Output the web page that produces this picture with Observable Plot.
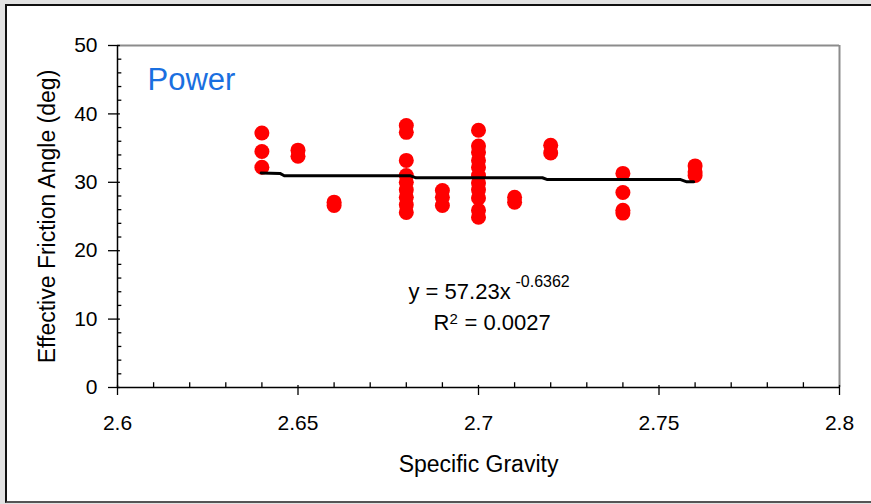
<!DOCTYPE html>
<html><head><meta charset="utf-8">
<script src="https://cdn.jsdelivr.net/npm/d3@7"></script>
<script src="https://cdn.jsdelivr.net/npm/@observablehq/plot@0.6"></script>
<style>
html,body{margin:0;padding:0;background:#e2e2e2;width:871px;height:504px;overflow:hidden;}
#panel{position:absolute;left:5px;top:4px;width:900px;height:499px;box-sizing:border-box;border:2.5px solid #111;border-right:none;border-bottom-color:#555;background:#fff;}
#chart{position:absolute;left:0;top:0;}
</style></head><body><div id="panel"></div><div id="chart"></div>
<script>
// Specific gravity groups and the friction angles measured at each
const specificGravity = [2.64, 2.65, 2.66, 2.68, 2.69, 2.70, 2.71, 2.72, 2.74, 2.76];
const frictionAngles = [
  [37.2, 34.5, 32.2],
  [34.7, 33.8],
  [27.1, 26.6],
  [38.3, 37.3, 33.2, 31.0, 30.0, 28.9, 27.8, 26.7, 25.6],
  [28.8, 27.8, 26.6],
  [37.6, 35.3, 34.4, 33.2, 32.2, 31.0, 29.9, 28.9, 27.7, 25.9, 24.9],
  [27.8, 27.1],
  [35.4, 34.3],
  [31.3, 28.5, 25.9, 25.5],
  [32.4, 31.5, 31.0]
];
// Power trendline as drawn
const trendX = [2.6398, 2.6450, 2.6462, 2.6812, 2.6827, 2.7177, 2.7191, 2.7560, 2.7577, 2.7596];
const trendY = [31.35, 31.30, 30.95, 30.95, 30.66, 30.66, 30.40, 30.40, 30.07, 30.07];
// Axis ticks
const xTicks = [2.6, 2.65, 2.7, 2.75, 2.8];
const xTickLabels = ["2.6", "2.65", "2.7", "2.75", "2.8"];
const xMinorTicks = [2.61, 2.62, 2.63, 2.64, 2.66, 2.67, 2.68, 2.69, 2.71, 2.72, 2.73, 2.74, 2.76, 2.77, 2.78, 2.79];
const yTicks = [0, 10, 20, 30, 40, 50];
const yMinorTicks = [2, 4, 6, 8, 12, 14, 16, 18, 22, 24, 26, 28, 32, 34, 36, 38, 42, 44, 46, 48];
// Texts
const xLabel = "Specific Gravity";
const yLabel = "Effective Friction Angle (deg)";
const panelLabel = "Power";
const eqMain = "y = 57.23x";
const eqExp = "-0.6362";
const r2Letter = "R";
const r2Exp = "2";
const r2Rest = "= 0.0027";

const points = specificGravity.flatMap((sg, i) => frictionAngles[i].map(a => ({sg, a})));
const trend = trendX.map((x, i) => ({x, y: trendY[i]}));

const font = "'Liberation Sans', Arial, sans-serif";
const chart = Plot.plot({
  width: 871, height: 504,
  marginLeft: 117, marginRight: 32, marginTop: 45, marginBottom: 117,
  style: {background: "transparent", fontFamily: font, color: "#000"},
  x: {domain: [2.6, 2.8]},
  y: {domain: [0, 50]},
  marks: [
    Plot.ruleY([50], {stroke: "#8c8c8c", strokeWidth: 2}),
    Plot.ruleX([2.8], {stroke: "#8c8c8c", strokeWidth: 2}),
    Plot.ruleX(xMinorTicks, {y1: 0, y2: 0.7, stroke: "#000", strokeWidth: 1.3}),
    Plot.ruleX(xTicks, {y1: 0, y2: 0.3, stroke: "#000", strokeWidth: 1.3}),
    Plot.ruleY(yMinorTicks, {x1: 2.6, x2: 2.6012, stroke: "#000", strokeWidth: 1.3}),
    Plot.ruleY(yTicks, {x1: 2.6, x2: 2.6008, stroke: "#000", strokeWidth: 1.3}),
    Plot.axisX({ticks: xTicks, tickSize: 8, tickPadding: 20, fontSize: 21, label: null,
      strokeWidth: 1.3, tickFormat: d => xTickLabels[xTicks.indexOf(d)]}),
    Plot.axisY({ticks: yTicks, tickSize: 9, tickPadding: 11, fontSize: 21, label: null, strokeWidth: 1.3}),
    Plot.ruleX([2.6], {stroke: "#000", strokeWidth: 1.5}),
    Plot.ruleY([0], {stroke: "#000", strokeWidth: 1.5}),
    Plot.dot(points, {x: "sg", y: "a", r: 7.5, fill: "#ff0000", stroke: null}),
    Plot.line(trend, {x: "x", y: "y", stroke: "#000", strokeWidth: 3}),
    Plot.text([panelLabel], {frameAnchor: "top-left", dx: 30, dy: 22, lineAnchor: "top", textAnchor: "start", fontSize: 31, fill: "#1a6fe0"}),
    Plot.text([eqMain], {frameAnchor: "top-left", dx: 291, dy: 238, lineAnchor: "top", textAnchor: "start", fontSize: 22}),
    Plot.text([eqExp], {frameAnchor: "top-left", dx: 398, dy: 230, lineAnchor: "top", textAnchor: "start", fontSize: 16}),
    Plot.text([r2Letter], {frameAnchor: "top-left", dx: 316, dy: 269, lineAnchor: "top", textAnchor: "start", fontSize: 22}),
    Plot.text([r2Exp], {frameAnchor: "top-left", dx: 332, dy: 268, lineAnchor: "top", textAnchor: "start", fontSize: 15}),
    Plot.text([r2Rest], {frameAnchor: "top-left", dx: 347, dy: 269, lineAnchor: "top", textAnchor: "start", fontSize: 22}),
    Plot.text([xLabel], {frameAnchor: "bottom", dy: 68, lineAnchor: "top", fontSize: 23}),
    Plot.text([yLabel], {frameAnchor: "left", dx: -70, rotate: -90, textAnchor: "middle", lineAnchor: "middle", fontSize: 23})
  ]
});
document.getElementById("chart").append(chart);
</script>
</body></html>
